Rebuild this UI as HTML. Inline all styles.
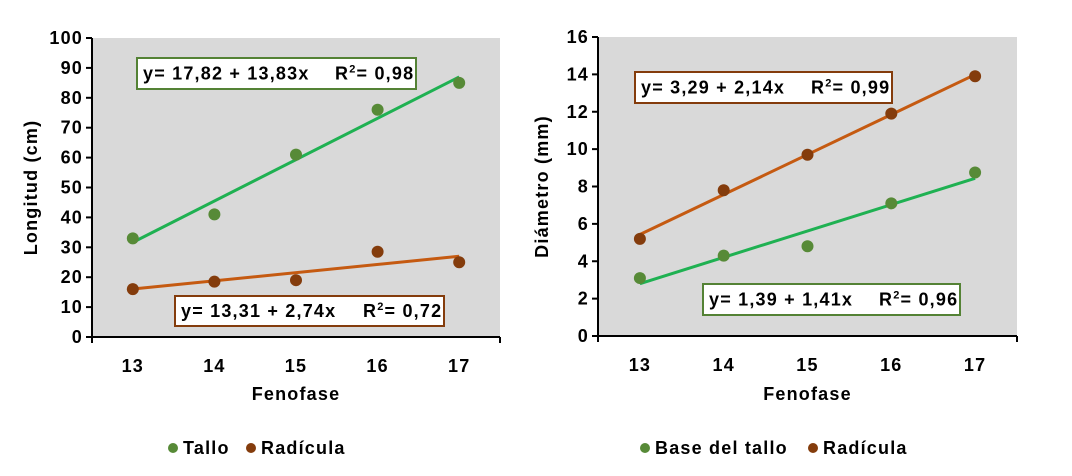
<!DOCTYPE html>
<html><head><meta charset="utf-8">
<style>
html,body{margin:0;padding:0;background:#fff;}
svg{display:block;font-family:"Liberation Sans",sans-serif;font-weight:bold;letter-spacing:1.2px;}
</style></head>
<body>
<svg id="chart" width="1072" height="476" viewBox="0 0 1072 476" xmlns="http://www.w3.org/2000/svg"></svg>
<script>
const categories = [13, 14, 15, 16, 17];
const talloValues = [33, 41, 61, 76, 85];
const radiculaLenValues = [16, 18.5, 19, 28.5, 25];
const leftTicks = [0, 10, 20, 30, 40, 50, 60, 70, 80, 90, 100];
const baseValues = [3.1, 4.3, 4.8, 7.1, 8.75];
const radiculaDiamValues = [5.2, 7.8, 9.7, 11.9, 13.9];
const rightTicks = [0, 2, 4, 6, 8, 10, 12, 14, 16];
const talloFit = [17.82, 13.83];
const radLenFit = [13.31, 2.74];
const radDiamFit = [3.29, 2.14];
const baseFit = [1.39, 1.41];

const NS = "http://www.w3.org/2000/svg";
const svg = document.getElementById("chart");
function mk(tag, attrs, parent, text) {
  const e = document.createElementNS(NS, tag);
  for (const k in attrs) e.setAttribute(k, attrs[k]);
  if (text !== undefined) e.textContent = text;
  (parent || svg).appendChild(e);
  return e;
}
const GREEN_M = "#578a37", BROWN_M = "#843c0c", GREEN_L = "#1fb152", ORANGE_L = "#c55a11";

function panel(cfg) {
  const g = mk("g", {});
  
  
  const {x0, x1, y0, y1, ymax} = cfg;
  const bw = (x1 - x0) / categories.length;
  const xs = i => x0 + bw * (i + 0.5);
  const ys = v => y1 - (v / ymax) * (y1 - y0);
  const bg = mk("rect", {x: x0, y: y0, width: x1 - x0, height: y1 - y0, fill: "#d9d9d9"}, g);
  
  
  const ya = mk("line", {x1: x0, y1: y0, x2: x0, y2: y1, stroke: "#000", "stroke-width": 2}, g);
  
  
  const xa = mk("line", {x1: x0 - 6, y1: y1, x2: x1, y2: y1, stroke: "#000", "stroke-width": 2}, g);
  
  
  mk("line", {x1: x1, y1: y1, x2: x1, y2: y1 + 6, stroke: "#000", "stroke-width": 2}, g);
  mk("line", {x1: x0, y1: y1, x2: x0, y2: y1 + 6, stroke: "#000", "stroke-width": 2}, g);
  cfg.ticks.forEach(t => {
    mk("line", {x1: x0 - 6, y1: ys(t), x2: x0, y2: ys(t), stroke: "#000", "stroke-width": 2}, g);
    const tl = mk("text", {x: x0 - 9, y: ys(t) + 6, "text-anchor": "end", "font-size": 18}, g, t);
    
    
  });
  categories.forEach((c, i) => {
    const tl = mk("text", {x: xs(i), y: y1 + 35, "text-anchor": "middle", "font-size": 18}, g, c);
    
    
  });
  const yt = mk("text", {x: 0, y: 0, "text-anchor": "middle", "font-size": 18, transform: `translate(${cfg.ytX},${(y0 + y1) / 2}) rotate(-90)`}, g, cfg.yTitle);
  
  
  const xt = mk("text", {x: (x0 + x1) / 2, y: 400, "text-anchor": "middle", "font-size": 18}, g, "Fenofase");
  
  
  cfg.series.forEach(s => {
    const a = s.fit[0], b = s.fit[1];
    const n = categories.length;
    const tr = mk("line", {x1: xs(0), y1: ys(a + b * 1), x2: xs(n - 1), y2: ys(a + b * n), stroke: s.lc, "stroke-width": 3}, g);
    
    
  });
  cfg.series.forEach(s => {
    s.vals.forEach((v, i) => {
      const p = mk("circle", {cx: xs(i), cy: ys(v), r: 6, fill: s.mc}, g);
      
      
    });
  });
  cfg.boxes.forEach(bx => {
    const r = mk("rect", {x: bx.x, y: bx.y, width: bx.w, height: bx.h, fill: "#fff", stroke: bx.c, "stroke-width": 2}, g);
    
    
    const t = mk("text", {x: bx.x + 6, y: bx.y + bx.h / 2 + 6, "font-size": 18}, g);
    
    
    mk("tspan", {}, t, bx.eq);
    mk("tspan", {x: bx.x + bx.rx}, t, "R");
    mk("tspan", {"font-size": 11, dy: -7}, t, "2");
    mk("tspan", {dy: 7}, t, "= " + bx.r2);
  });
  cfg.legend.forEach(l => {
    const c = mk("circle", {cx: l.x, cy: 448, r: 5, fill: l.c}, g);
    
    
    const t = mk("text", {x: l.x + 10, y: 454, "font-size": 18}, g, l.t);
    
    
  });
}

panel({name: "length-chart", x0: 92, x1: 500, y0: 38, y1: 337, ymax: 100, ticks: leftTicks, ytX: 37, yTitle: "Longitud (cm)",
  series: [
    {key: "tallo", vals: talloValues, fit: talloFit, mc: GREEN_M, lc: GREEN_L},
    {key: "radicula", vals: radiculaLenValues, fit: radLenFit, mc: BROWN_M, lc: ORANGE_L}],
  boxes: [
    {x: 137, y: 58, w: 279, h: 31, c: "#548235", eq: "y= 17,82 + 13,83x", rx: 198, r2: "0,98"},
    {x: 175, y: 296, w: 269, h: 30, c: "#843c0c", eq: "y= 13,31 + 2,74x", rx: 188, r2: "0,72"}],
  legend: [{x: 173, c: GREEN_M, t: "Tallo"}, {x: 251, c: BROWN_M, t: "Radícula"}]
});
panel({name: "diameter-chart", x0: 598, x1: 1017, y0: 37, y1: 336, ymax: 16, ticks: rightTicks, ytX: 548, yTitle: "Diámetro (mm)",
  series: [
    {key: "radicula", vals: radiculaDiamValues, fit: radDiamFit, mc: BROWN_M, lc: ORANGE_L},
    {key: "base-tallo", vals: baseValues, fit: baseFit, mc: GREEN_M, lc: GREEN_L}],
  boxes: [
    {x: 635, y: 72, w: 257, h: 31, c: "#843c0c", eq: "y= 3,29 + 2,14x", rx: 176, r2: "0,99"},
    {x: 703, y: 284, w: 257, h: 31, c: "#548235", eq: "y= 1,39 + 1,41x", rx: 176, r2: "0,96"}],
  legend: [{x: 645, c: GREEN_M, t: "Base del tallo"}, {x: 813, c: BROWN_M, t: "Radícula"}]
});
</script>
</body></html>
